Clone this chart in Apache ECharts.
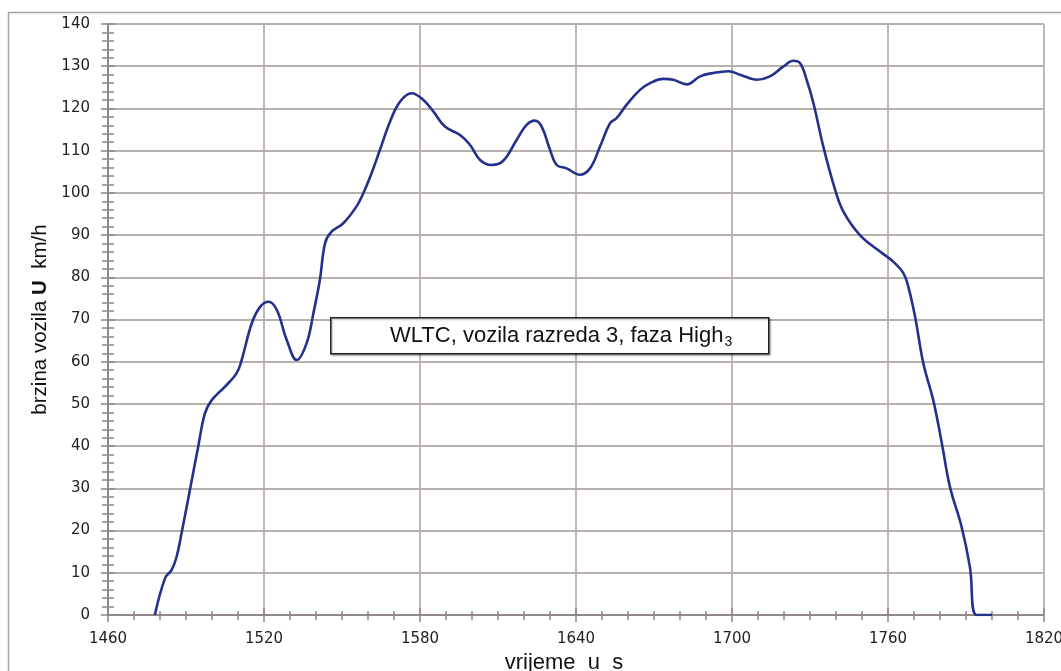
<!DOCTYPE html>
<html>
<head>
<meta charset="utf-8">
<script src="https://cdn.jsdelivr.net/npm/echarts@6/dist/echarts.min.js"></script>
<style>
html,body{margin:0;padding:0;background:#fff;overflow:hidden;}
#chart{width:1061px;height:671px;}
</style>
</head>
<body>
<div id="chart"></div>
<script>
const times = [1478,1482,1484.5,1486.4,1488.3,1491.5,1494.7,1497.3,1499.9,1505,1509.5,1511.4,1515.3,1518.5,1521.7,1524.9,1528.7,1532.6,1536.4,1539,1541.5,1543.5,1546,1550.5,1555.6,1558.2,1561.4,1564.6,1568.5,1572.3,1576.8,1581.3,1585.1,1589.6,1595.4,1599.2,1603.1,1607.5,1612,1617.2,1621,1624.2,1626.8,1630,1632.6,1636.4,1641.5,1645.4,1649.2,1653.1,1655.6,1659.5,1664.6,1668.5,1673.6,1677.4,1682.6,1687.7,1692.8,1698.6,1703.1,1709.5,1714.6,1719.7,1723.6,1726.2,1728.7,1731.3,1735.1,1739.3,1742.8,1749.2,1756.9,1762,1765.9,1767.8,1770.4,1773.6,1777.4,1780.7,1783.8,1788.3,1791.5,1794.1,1800];
const speeds = [0,8.8,10.7,13.8,19.4,29.6,39.9,47.8,50.9,54.1,57.3,60.4,69.1,73,74.2,72.3,65.2,60.4,64.4,71.5,79.4,88.1,90.8,92.8,96.8,99.9,104.7,110.2,116.9,121.6,123.6,122,119.3,115.7,113.7,111.4,107.8,106.6,107.6,112.6,116.1,117.1,115.7,110.2,106.6,105.8,104.3,105.8,110.9,116.5,117.7,120.9,124.4,126,127,126.8,125.7,127.6,128.4,128.8,128,126.8,127.6,129.9,131.3,130.7,126.8,121.3,111,101.5,95.6,90,86.1,83.7,81,77.8,70.7,59.6,50.9,40.7,30.4,20.9,11.4,0,0];
const xLabelName = 'vrijeme  u  s';
const annotation = 'WLTC, vozila razreda 3, faza High';
const annotationSub = '3';

const data = times.map((t, i) => [t, speeds[i]]);
const gridColor = '#b8b0ac';
const axisColor = '#8e8682';
const font = 'Liberation Sans';
const tickFont = 'DejaVu Sans';

const annFont = 22;
const mctx = document.createElement('canvas').getContext('2d');
mctx.font = annFont + 'px "' + font + '"';
const annW = mctx.measureText(annotation).width;

const chart = echarts.init(document.getElementById('chart'));
const xBase = {
  type: 'value', min: 1460, max: 1820, interval: 60, position: 'bottom',
  axisLine: {show: true, onZero: false, lineStyle: {color: axisColor, width: 1.5}},
  minorTick: {show: true, splitNumber: 6, length: 5, lineStyle: {color: axisColor, width: 1.5}},
  axisTick: {show: true, length: 7, lineStyle: {color: axisColor, width: 1.5}},
  splitLine: {show: false}
};
const yBase = {
  type: 'value', min: 0, max: 140, interval: 10, position: 'left',
  axisLine: {show: true, onZero: false, lineStyle: {color: axisColor, width: 1.5}},
  minorTick: {show: true, splitNumber: 5, length: 6, lineStyle: {color: axisColor, width: 1.5}},
  axisTick: {show: true, length: 7, lineStyle: {color: axisColor, width: 1.5}},
  splitLine: {show: false}
};
chart.setOption({
  animation: false,
  backgroundColor: '#fff',
  grid: {left: 108, top: 24, right: 17, bottom: 56, containLabel: false, outerBoundsMode: 'none'},
  xAxis: [
    Object.assign({}, xBase, {
      axisLabel: {color: '#222', fontFamily: tickFont, fontSize: 15, margin: 17, formatter: v => String(v)},
      splitLine: {show: true, lineStyle: {color: gridColor, width: 1.8}},
      name: xLabelName, nameLocation: 'middle', nameGap: 36,
      nameTextStyle: {color: '#111', fontFamily: font, fontSize: 22, padding: [0, 24, 0, 0]}
    }),
    Object.assign({}, xBase, {
      axisLabel: {show: false},
      axisTick: {show: true, inside: true, length: 7, lineStyle: {color: axisColor, width: 1.5}},
      minorTick: {show: true, splitNumber: 6, length: 4, lineStyle: {color: axisColor, width: 1.5}}
    })
  ],
  yAxis: [
    Object.assign({}, yBase, {
      axisLabel: {color: '#222', fontFamily: tickFont, fontSize: 15, margin: 18, formatter: v => String(v)},
      splitLine: {show: true, lineStyle: {color: gridColor, width: 1.8}},
      name: '{n|brzina vozila }{b|U}{n|  km/h}', nameLocation: 'middle', nameGap: 56, nameRotate: 90,
      nameTextStyle: {rich: {
        n: {color: '#111', fontFamily: font, fontSize: 20.5},
        b: {color: '#111', fontFamily: font, fontSize: 20.5, fontWeight: 'bold'}
      }}
    }),
    Object.assign({}, yBase, {
      axisLabel: {show: false},
      axisTick: {show: true, inside: true, length: 7, lineStyle: {color: axisColor, width: 1.5}},
      minorTick: {show: true, splitNumber: 5, length: 6, lineStyle: {color: axisColor, width: 1.5}}
    })
  ],
  graphic: [
    {type: 'rect', left: 6, top: 10, shape: {width: 1080, height: 660},
     style: {fill: 'none', stroke: '#a8a29e', lineWidth: 1.5}, z: -1, silent: true},
    {type: 'rect', left: 330, top: 317, shape: {width: 438, height: 36},
     style: {fill: '#fff', stroke: '#222', lineWidth: 1.5, shadowBlur: 2, shadowOffsetX: 1, shadowOffsetY: 1, shadowColor: 'rgba(0,0,0,0.35)'}, z: 100},
    {type: 'text', left: 390, top: 325, z: 101,
     style: {text: annotation, fontFamily: font, fontSize: annFont, fill: '#111'}},
    {type: 'text', left: 390 + annW + 1, top: 335, z: 101,
     style: {text: annotationSub, fontFamily: font, fontSize: 14, fill: '#111'}}
  ],
  series: [{
    type: 'line', xAxisIndex: 0, yAxisIndex: 0, data: data,
    smooth: 0.4, showSymbol: false,
    lineStyle: {color: '#23308c', width: 2.6}, z: 10
  }]
});
</script>
</body>
</html>
